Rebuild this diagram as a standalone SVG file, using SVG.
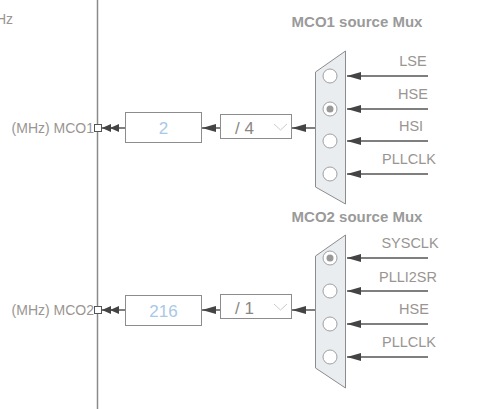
<svg xmlns="http://www.w3.org/2000/svg" width="481" height="409" viewBox="0 0 481 409">
<defs>
<style>
text{font-family:"Liberation Sans",Arial,sans-serif;}
.lbl{font-size:14px;fill:#9a9592;}
.in{font-size:14.5px;fill:#9a9592;text-anchor:middle;}
.ttl{font-size:15px;font-weight:bold;fill:#9a9a9a;}
.val{font-size:17px;fill:#a9c8e6;}
.div{font-size:17px;fill:#8a8684;}
.box{fill:#fff;stroke:#8c8c8c;stroke-width:1;}
.mux{fill:#e9edf0;stroke:#8c8c8c;stroke-width:1;}
.rad{fill:#fff;stroke:#a0a0a0;stroke-width:1;}
.dot{fill:#999;}
.wire{stroke:#555;stroke-width:1.5;fill:none;}
.ar{marker-end:url(#ah);}
.ar2{marker-end:url(#ah2);}
</style>
<marker id="ah" markerUnits="userSpaceOnUse" markerWidth="15" markerHeight="10" refX="14" refY="5" orient="auto">
<path d="M0,1 L14,5 L0,9 z" fill="#444"/>
</marker>
<marker id="ah2" markerUnits="userSpaceOnUse" markerWidth="18" markerHeight="10" refX="17" refY="5" orient="auto">
<path d="M0,1 L9,5 L0,9 z M8,1 L17,5 L8,9 z" fill="#444"/>
</marker>
</defs>

<g id="bus">
<line x1="97.5" y1="0" x2="97.5" y2="409" stroke="#8a8a8a" stroke-width="1.5"/>
<text class="lbl" x="13" y="24" text-anchor="end">Hz</text>
</g>

<g id="connectors">
<line class="wire ar" x1="428" y1="76" x2="347" y2="76"/>
<line class="wire ar" x1="428" y1="109" x2="347" y2="109"/>
<line class="wire ar" x1="428" y1="141" x2="347" y2="141"/>
<line class="wire ar" x1="428" y1="174" x2="347" y2="174"/>
<line class="wire ar" x1="428" y1="258" x2="347" y2="258"/>
<line class="wire ar" x1="428" y1="291" x2="347" y2="291"/>
<line class="wire ar" x1="428" y1="324" x2="347" y2="324"/>
<line class="wire ar" x1="428" y1="357" x2="347" y2="357"/>
<line class="wire ar" x1="315" y1="128" x2="292" y2="128"/>
<line class="wire ar" x1="220" y1="128" x2="202" y2="128"/>
<line class="wire ar2" x1="125" y1="128" x2="102" y2="128"/>
<line class="wire ar" x1="315" y1="310" x2="292" y2="310"/>
<line class="wire ar" x1="220" y1="310" x2="202" y2="310"/>
<line class="wire ar2" x1="125" y1="310" x2="102" y2="310"/>
</g>

<g id="mux1">
<text class="ttl" x="357" y="27" text-anchor="middle">MCO1 source Mux</text>
<polygon class="mux" points="315.5,72 345.5,51 345.5,204 315.5,187"/>
<circle class="rad" cx="330" cy="76" r="7"/>
<circle class="rad" cx="330" cy="109" r="7"/>
<circle class="dot" cx="330" cy="109" r="3.5"/>
<circle class="rad" cx="330" cy="141" r="7"/>
<circle class="rad" cx="330" cy="174" r="7"/>
<text class="in" x="413" y="66">LSE</text>
<text class="in" x="413" y="99">HSE</text>
<text class="in" x="411" y="131">HSI</text>
<text class="in" x="409" y="164">PLLCLK</text>
</g>

<g id="mux2">
<text class="ttl" x="357" y="222" text-anchor="middle">MCO2 source Mux</text>
<polygon class="mux" points="315.5,256 345.5,235 345.5,388 315.5,368"/>
<circle class="rad" cx="330" cy="258" r="7"/>
<circle class="dot" cx="330" cy="258" r="3.5"/>
<circle class="rad" cx="330" cy="291" r="7"/>
<circle class="rad" cx="330" cy="324" r="7"/>
<circle class="rad" cx="330" cy="357" r="7"/>
<text class="in" x="410" y="248">SYSCLK</text>
<text class="in" x="408" y="282">PLLI2SR</text>
<text class="in" x="414" y="314">HSE</text>
<text class="in" x="409" y="347">PLLCLK</text>
</g>

<g id="div1">
<rect class="box" x="220.5" y="114.5" width="71" height="24"/>
<text class="div" x="235" y="134">/ 4</text>
<polyline points="274,124 280.5,130 287,124" fill="none" stroke="#ccc" stroke-width="1"/>
</g>

<g id="val1">
<rect class="box" x="125.5" y="112.5" width="76" height="30"/>
<text class="val" x="163.5" y="134" text-anchor="middle">2</text>
</g>

<g id="mco1">
<rect x="94.5" y="124.5" width="7" height="7" fill="#fff" stroke="#555" stroke-width="1"/>
<text class="lbl" x="94" y="133" text-anchor="end">(MHz) MCO1</text>
</g>

<g id="div2">
<rect class="box" x="220.5" y="294.5" width="71" height="24"/>
<text class="div" x="235" y="314">/ 1</text>
<polyline points="274,304 280.5,310 287,304" fill="none" stroke="#ccc" stroke-width="1"/>
</g>

<g id="val2">
<rect class="box" x="125.5" y="295.5" width="76" height="30"/>
<text class="val" x="163.5" y="317" text-anchor="middle">216</text>
</g>

<g id="mco2">
<rect x="94.5" y="306.5" width="7" height="7" fill="#fff" stroke="#555" stroke-width="1"/>
<text class="lbl" x="94" y="315" text-anchor="end">(MHz) MCO2</text>
</g>
</svg>
